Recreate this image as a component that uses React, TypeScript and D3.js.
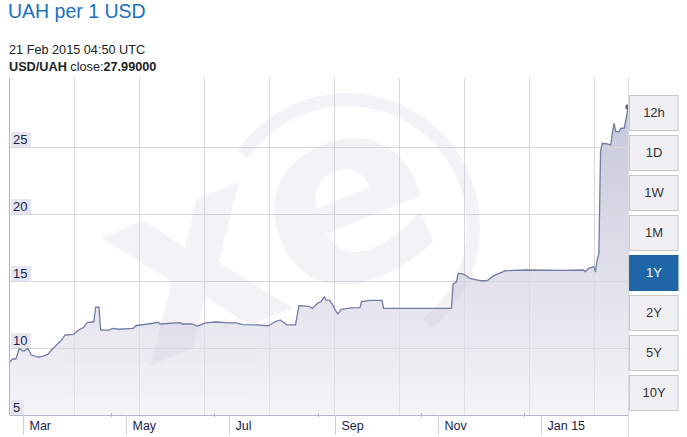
import React from "react";
import * as d3 from "d3";

const chartTitle = "UAH per 1 USD";
const timestampText = "21 Feb 2015 04:50 UTC";
const pairLabel = "USD/UAH";
const closeLabel = " close:";
const closeValue = "27.99000";

const rateDates = [
  "2014-02-21", "2014-02-23", "2014-02-25", "2014-02-27", "2014-03-01", "2014-03-02",
  "2014-03-04", "2014-03-06", "2014-03-10", "2014-03-13", "2014-03-16", "2014-03-19",
  "2014-03-24", "2014-03-26", "2014-03-31", "2014-04-03", "2014-04-06", "2014-04-08",
  "2014-04-12", "2014-04-13", "2014-04-15", "2014-04-16", "2014-04-21", "2014-04-23",
  "2014-04-27", "2014-05-05", "2014-05-07", "2014-05-14", "2014-05-20", "2014-05-21",
  "2014-06-02", "2014-06-03", "2014-06-09", "2014-06-12", "2014-06-17", "2014-06-23",
  "2014-07-01", "2014-07-05", "2014-07-09", "2014-07-17", "2014-07-24", "2014-07-28",
  "2014-07-31", "2014-08-04", "2014-08-09", "2014-08-11", "2014-08-17", "2014-08-19",
  "2014-08-22", "2014-08-24", "2014-08-26", "2014-08-27", "2014-08-29", "2014-08-31",
  "2014-09-02", "2014-09-03", "2014-09-05", "2014-09-11", "2014-09-16", "2014-09-17",
  "2014-09-22", "2014-09-29", "2014-09-30", "2014-11-09", "2014-11-10", "2014-11-12",
  "2014-11-13", "2014-11-16", "2014-11-20", "2014-11-26", "2014-11-30", "2014-12-04",
  "2014-12-11", "2014-12-23", "2015-01-14", "2015-01-26", "2015-01-27", "2015-01-29",
  "2015-02-01", "2015-02-02", "2015-02-03", "2015-02-04", "2015-02-05", "2015-02-06",
  "2015-02-09", "2015-02-11", "2015-02-12", "2015-02-13", "2015-02-14", "2015-02-16",
  "2015-02-17", "2015-02-19", "2015-02-20T00:00", "2015-02-20T12:00", "2015-02-21T04:50",
];

const rateValues = [
  8.9, 9.18, 9.18, 9.98, 9.78, 9.78,
  9.98, 9.48, 9.31, 9.4, 9.55, 9.98,
  10.6, 10.97, 11.02, 11.34, 11.54, 11.89,
  11.96, 13.04, 13.04, 11.34, 11.34, 11.47,
  11.4, 11.46, 11.68, 11.79, 11.92, 11.79,
  11.89, 11.79, 11.79, 11.64, 11.87, 11.94,
  11.87, 11.87, 11.74, 11.72, 11.66, 11.96,
  12.09, 11.72, 11.72, 13.16, 13.1, 12.96,
  13.34, 13.46, 13.83, 13.58, 13.58, 13.21,
  12.71, 12.54, 12.89, 12.99, 13.01, 13.46,
  13.56, 13.56, 12.96, 12.96, 14.78, 14.95,
  15.57, 15.52, 15.2, 15.02, 15.02, 15.4,
  15.77, 15.82, 15.8, 15.82, 15.69, 15.95,
  16.07, 15.69, 16.57, 17.0, 24.65, 25.28,
  25.23, 25.15, 26.04, 26.77, 26.14, 26.14,
  26.4, 26.4, 27.07, 27.39, 27.99,
];

const domainStart = "2014-02-21T04:50";
const domainEnd = "2015-02-21T04:50";
const yDomain = [5, 30];
const yTicks = [5, 10, 15, 20, 25];
const monthLabels = ["Mar", "May", "Jul", "Sep", "Nov", "Jan 15"];
const monthDates = ["2014-03-01", "2014-05-01", "2014-07-01", "2014-09-01", "2014-11-01", "2015-01-01"];
const minorTickDates = ["2014-04-22", "2014-06-22", "2014-08-22", "2014-10-22", "2014-12-22"];
const rangeButtons = ["12h", "1D", "1W", "1M", "1Y", "2Y", "5Y", "10Y"];
const activeButton = "1Y";

const parse = (s: string) => new Date(s.length === 10 ? s + "T00:00:00Z" : s + ":00Z");

const W = 687;
const H = 437;
const left = 9.5;
const right = 628.5;
const top = 80;
const bottom = 415;
const FONT = "'Liberation Sans', Arial, sans-serif";

export default function App() {
  const data = rateDates.map((d, i) => ({ date: parse(d), value: rateValues[i] }));
  const x = d3.scaleUtc().domain([parse(domainStart), parse(domainEnd)]).range([left, right - 0.5]);
  const y = d3.scaleLinear().domain(yDomain).range([bottom, top]);

  const area = d3
    .area<{ date: Date; value: number }>()
    .x((d) => x(d.date))
    .y0(bottom)
    .y1((d) => y(d.value));
  const line = d3
    .line<{ date: Date; value: number }>()
    .x((d) => x(d.date))
    .y((d) => y(d.value));

  const last = data[data.length - 1];
  const vGrid = d3.range(1, 10).map((i) => left + i * 65);

  return (
    <svg
      width={W}
      height={H}
      style={{ position: "absolute", left: 0, top: 0, fontFamily: FONT }}
    >
      <defs>
        <linearGradient id="areaGrad" gradientUnits="userSpaceOnUse" x1="0" y1={top} x2="0" y2={bottom}>
          <stop offset="0%" stopColor="#c2c5d9" />
          <stop offset="100%" stopColor="#f4f4f8" />
        </linearGradient>
        <clipPath id="plotClip">
          <rect x={left} y={top - 2} width={right - left} height={bottom - top + 2} />
        </clipPath>
      </defs>

      <rect x={0} y={0} width={W} height={H} fill="#ffffff" />

      {/* header */}
      <text x={8} y={18} fontSize={19.5} fill="#1a6fc0">{chartTitle}</text>
      <text x={9} y={54} fontSize={12.7} fill="#222">{timestampText}</text>
      <text x={9} y={71} fontSize={12.7} fill="#222">
        <tspan fontWeight="bold">{pairLabel}</tspan>
        <tspan>{closeLabel}</tspan>
        <tspan fontWeight="bold">{closeValue}</tspan>
      </text>

      {/* vertical grid */}
      {vGrid.map((gx, i) => (
        <line key={"vg" + i} x1={gx} x2={gx} y1={top - 2} y2={bottom} stroke="#dcdcdf" strokeWidth={1} />
      ))}

      {/* area + line */}
      <g clipPath="url(#plotClip)">
        <path d={area(data) || ""} fill="url(#areaGrad)" />
        {vGrid.map((gx, i) => (
          <line key={"vg2" + i} x1={gx} x2={gx} y1={top - 2} y2={bottom} stroke="#d4d5de" strokeOpacity={0.6} strokeWidth={1} />
        ))}
      </g>

      {/* horizontal grid */}
      {yTicks.slice(1).map((t) => (
        <line key={"hg" + t} x1={left} x2={right} y1={Math.round(y(t)) + 0.5} y2={Math.round(y(t)) + 0.5} stroke="#d8d8de" strokeWidth={1} />
      ))}

      {/* watermark */}
      <g clipPath="url(#plotClip)" opacity={0.2} fill="none">
        <path
          d={d3.arc()({ innerRadius: 120, outerRadius: 133, startAngle: -0.97, endAngle: 2.45 }) || ""}
          transform="translate(347,226)"
          fill="#c4c4d6"
        />
        <text
          x={0}
          y={0}
          transform="translate(300,305) rotate(-22)"
          fontSize={250}
          fontWeight="bold"
          fill="#c4c4d6"
          textAnchor="middle"
          style={{ fontFamily: "'DejaVu Sans', sans-serif" }}
        >
          xe
        </text>
      </g>

      <path d={line(data) || ""} fill="none" stroke="#727ca4" strokeWidth={1.3} strokeLinejoin="round" />
      <circle cx={x(last.date)} cy={y(last.value)} r={2.6} fill="#59628f" />

      {/* borders */}
      <line x1={left} x2={left} y1={top - 2} y2={bottom} stroke="#b4b6c8" strokeWidth={1} />
      <line x1={right} x2={right} y1={top - 2} y2={H} stroke="#dcdcdf" strokeWidth={1} />
      <line x1={left} x2={right} y1={bottom + 0.5} y2={bottom + 0.5} stroke="#b4b6c8" strokeWidth={1} />

      {/* y labels */}
      {yTicks.map((t) => {
        const label = String(t);
        const bw = 6 + 7 * label.length;
        const by = Math.round(y(t));
        return (
          <g key={"yl" + t}>
            <rect x={11} y={by - 15} width={bw} height={15} fill="#e6e6f1" />
            <text x={13} y={by - 3} fontSize={13} fill="#20214d">{label}</text>
          </g>
        );
      })}

      {/* x axis */}
      {minorTickDates.map((d, i) => {
        const mx = Math.round(x(parse(d))) + 0.5;
        return <line key={"mt" + i} x1={mx} x2={mx} y1={bottom - 2} y2={bottom + 2} stroke="#b4b6c8" />;
      })}
      {monthDates.map((d, i) => {
        const mx = Math.round(x(parse(d))) + 0.5;
        return (
          <g key={"ml" + i}>
            <line x1={mx} x2={mx} y1={bottom} y2={bottom + 20} stroke="#d0d0d6" strokeWidth={1} />
            <text x={mx + 6} y={430} fontSize={12.5} fill="#20214d">{monthLabels[i]}</text>
          </g>
        );
      })}

      {/* range buttons */}
      {rangeButtons.map((b, i) => {
        const active = b === activeButton;
        const by = 95.5 + i * 40;
        return (
          <g key={"btn" + b}>
            <rect
              x={629.5}
              y={by}
              width={48.5}
              height={35}
              fill={active ? "#1f66a7" : "#efeff4"}
              stroke={active ? "#1f66a7" : "#c9c9cc"}
              strokeWidth={1}
            />
            <text x={654} y={by + 21.5} fontSize={13} textAnchor="middle" fill={active ? "#ffffff" : "#333"}>
              {b}
            </text>
          </g>
        );
      })}
    </svg>
  );
}
